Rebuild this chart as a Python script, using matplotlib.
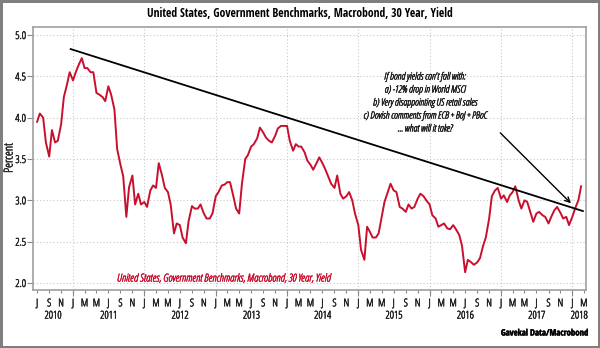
import matplotlib
matplotlib.use('Agg')
import matplotlib.pyplot as plt
import matplotlib.dates as mdates
import matplotlib.transforms as mtransforms
import matplotlib.patheffects as pe
from matplotlib import font_manager
from matplotlib.font_manager import FontProperties
import pandas as pd

# ---------------- data ----------------
title = "United States, Government Benchmarks, Macrobond, 30 Year, Yield"
series_label = "United States, Government Benchmarks, Macrobond, 30 Year, Yield"
source = "Gavekal Data/Macrobond"
ylabel = "Percent"
note_lines = ["If bond yields can't fall with:",
              "a) -12% drop in World MSCI",
              "b) Very disappointing US retail sales",
              "c) Dovish comments from ECB + BoJ + PBoC",
              "... what will it take?"]

start_date = "2010-07-01"
end_date = "2018-02-15"
# semi-monthly readings (1st and 15th of each month), percent
yield_pct = [
    # 2010 Jul-Dec
    3.95, 4.05, 4.00, 3.70, 3.53, 3.85, 3.70, 3.72, 3.92, 4.25, 4.40, 4.55,
    # 2011
    4.45, 4.55, 4.65, 4.72, 4.60, 4.60, 4.55, 4.55, 4.30, 4.28, 4.25, 4.20,
    4.38, 4.28, 4.10, 3.62, 3.43, 3.29, 2.80, 3.16, 3.30, 2.95, 3.08, 2.95,
    # 2012
    2.98, 2.92, 3.12, 3.18, 3.15, 3.45, 3.30, 3.15, 3.10, 2.95, 2.60, 2.72,
    2.70, 2.55, 2.48, 2.75, 2.93, 2.90, 2.90, 2.95, 2.84, 2.78, 2.78, 2.84,
    # 2013
    3.05, 3.10, 3.18, 3.19, 3.22, 3.22, 3.05, 2.90, 2.84, 3.20, 3.50, 3.55,
    3.65, 3.68, 3.75, 3.88, 3.82, 3.76, 3.72, 3.70, 3.78, 3.87, 3.90, 3.90,
    # 2014
    3.90, 3.72, 3.60, 3.68, 3.65, 3.65, 3.58, 3.48, 3.43, 3.37, 3.45, 3.52,
    3.45, 3.38, 3.28, 3.20, 3.15, 3.30, 3.08, 3.02, 3.05, 3.10, 3.00, 2.84,
    # 2015
    2.70, 2.40, 2.28, 2.68, 2.62, 2.55, 2.55, 2.60, 2.80, 2.98, 3.10, 3.20,
    3.12, 3.10, 2.92, 2.90, 2.86, 2.95, 2.90, 2.92, 3.02, 3.08, 3.05, 3.00,
    # 2016
    2.95, 2.82, 2.78, 2.68, 2.70, 2.72, 2.66, 2.65, 2.70, 2.65, 2.58, 2.45,
    2.13, 2.28, 2.25, 2.22, 2.25, 2.30, 2.45, 2.55, 2.78, 3.05, 3.12, 3.15,
    # 2017
    3.02, 3.06, 2.98, 3.06, 3.10, 3.17, 3.00, 2.90, 3.00, 2.98, 2.85, 2.74,
    2.84, 2.86, 2.82, 2.80, 2.72, 2.80, 2.88, 2.92, 2.85, 2.78, 2.80, 2.70,
    # 2018 Jan-Feb
    2.80, 2.90, 3.00, 3.17,
]

trend_dates = ["2010-12-20", "2018-02-24"]
trend_values = [4.83, 2.87]

arrow_from_date, arrow_from_value = "2016-12-18", 3.84
arrow_to_date, arrow_to_value = "2018-01-04", 2.94

years = [2010, 2011, 2012, 2013, 2014, 2015, 2016, 2017, 2018]
yticks = [2.0, 2.5, 3.0, 3.5, 4.0, 4.5, 5.0]

RED = '#c8102e'
TXT = '#222222'

fig = plt.figure(figsize=(6.0, 3.48), dpi=100)
fig.patch.set_facecolor('white')
fig.patch.set_edgecolor('#7f7f7f')
fig.patch.set_linewidth(2.5)
renderer = fig.canvas.get_renderer()

# ---------------- font selection by measured width ----------------
ALLOWED = {'Noto Sans', 'DejaVu Sans', 'Liberation Sans', 'Liberation Sans Narrow',
           'Roboto', 'Roboto Condensed', 'Open Sans', 'Open Sans Condensed',
           'Lato', 'Inter', 'Noto Sans Display'}

def _w(v):
    if isinstance(v, str):
        return font_manager.weight_dict.get(v, 400)
    return int(v)

def candidates(wmin, wmax, italic):
    out = set()
    for f in font_manager.fontManager.ttflist:
        if f.name not in ALLOWED:
            continue
        if italic != (f.style in ('italic', 'oblique')):
            continue
        if not (wmin <= _w(f.weight) <= wmax):
            continue
        out.add(f.fname)
    return sorted(out)

def width(text, path, size):
    fp = FontProperties(fname=path, size=size)
    return renderer.get_text_width_height_descent(text, fp, ismath=False)[0]

def best_font(cands, text, size, target, fallback):
    best = None
    for p in cands:
        try:
            w = width(text, p, size)
        except Exception:
            continue
        d = abs(w - target)
        if best is None or d < best[0]:
            best = (d, p)
    return best[1] if best else fallback

def fitted(path, text, target, size0=9.0):
    w = width(text, path, size0)
    return FontProperties(fname=path, size=size0 * target / w)

dv = font_manager.findfont(FontProperties(family='DejaVu Sans'))
dvb = font_manager.findfont(FontProperties(family='DejaVu Sans', weight='bold'))
dvi = font_manager.findfont(FontProperties(family='DejaVu Sans', style='italic'))

bold_path = best_font(candidates(600, 800, False), title, 9.5, 308, dvb)
reg_path = best_font(candidates(300, 500, False), note_lines[3], 8.5, 124, dv)
ital_path = best_font(candidates(300, 500, True), note_lines[3], 8.5, 124, dvi)

fp_title = fitted(bold_path, title, 308)
fp_source = fitted(bold_path, source, 88)
fp_note = fitted(ital_path, note_lines[3], 124)
fp_series = fitted(ital_path, series_label, 214)
fp_tick = fitted(reg_path, "2010", 17.0)
fp_ylabel = fitted(reg_path, ylabel, 30)

def heavier(color, lw=0.35):
    return [pe.withStroke(linewidth=lw, foreground=color)]

# ---------------- plot ----------------
dates = pd.date_range(start_date, end_date, freq='SMS')

ax = fig.add_axes([33/600, 1-290/348, (586-33)/600, (290-27)/348])
ax.plot(dates, yield_pct, color=RED, lw=1.4, zorder=3)
ax.plot(pd.to_datetime(trend_dates), trend_values, color='black', lw=1.3, zorder=4)
ax.annotate('', xy=(pd.Timestamp(arrow_to_date), arrow_to_value),
            xytext=(pd.Timestamp(arrow_from_date), arrow_from_value),
            arrowprops=dict(arrowstyle='->', color='black', lw=1.0, mutation_scale=9),
            zorder=5)

ax.set_xlim(pd.Timestamp('2010-06-10'), pd.Timestamp('2018-03-12'))
ax.set_ylim(1.915, 5.097)

# y axis
ax.set_yticks(yticks, labels=[f"{v:.1f}" for v in yticks], fontproperties=fp_tick,
              color=TXT, path_effects=heavier(TXT))
ax.tick_params(axis='y', length=4, width=0.8, color='#888888', pad=1)

# x axis: letters every two months, January ticks carry the grid
month_ticks = pd.date_range("2010-07-01", "2018-03-01", freq='2MS')
ax.xaxis.remove_overlapping_locs = False
ax.set_xticks(month_ticks, labels=[d.strftime('%b')[0] for d in month_ticks],
              fontproperties=fp_tick, color=TXT, path_effects=heavier(TXT))
ax.xaxis.set_minor_locator(mdates.MonthLocator(bymonth=[1]))
ax.tick_params(axis='x', which='major', length=2, width=0.8, color='#888888', pad=4)
ax.tick_params(axis='x', which='minor', length=4, width=0.8, color='#888888')

ax.grid(False)
ax.yaxis.grid(True, which='major', color='#c8c8c8', lw=0.8, ls=(0, (1, 2)))
ax.xaxis.grid(True, which='minor', color='#c8c8c8', lw=0.8, ls=(0, (1, 2)))
ax.set_axisbelow(True)

for s in ax.spines.values():
    s.set_color('#a0a0a0')
    s.set_linewidth(1.2)

# year labels centred on the visible part of each year
xmin, xmax = ax.get_xlim()
trans = mtransforms.blended_transform_factory(ax.transData, ax.transAxes)
for yr in years:
    a = max(mdates.date2num(pd.Timestamp(f"{yr}-01-01")), xmin)
    b = min(mdates.date2num(pd.Timestamp(f"{yr+1}-01-01")), xmax)
    ax.text((a + b) / 2, -0.099, str(yr), transform=trans, ha='center', va='center',
            fontproperties=fp_tick, color=TXT, path_effects=heavier(TXT))

# texts
fig.text(0.5, 1-13.5/348, title, ha='center', va='center', fontproperties=fp_title,
         color='black')
fig.text(9/600, 1-158/348, ylabel, rotation=90, ha='center', va='center',
         fontproperties=fp_ylabel, color=TXT, path_effects=heavier(TXT))
fig.text(589/600, 1-333/348, source, ha='right', va='center',
         fontproperties=fp_source, color='black', path_effects=heavier('black', 0.3))
ax.text((117-33)/553, (290-279)/263, series_label, transform=ax.transAxes,
        ha='left', va='center', fontproperties=fp_series, color=RED,
        path_effects=heavier(RED))
fig.text(425/600, 1-103/348, "\n".join(note_lines), ha='center', va='center',
         fontproperties=fp_note, color=TXT, linespacing=1.25,
         path_effects=heavier(TXT))

fig.savefig('out.png', dpi=100)
